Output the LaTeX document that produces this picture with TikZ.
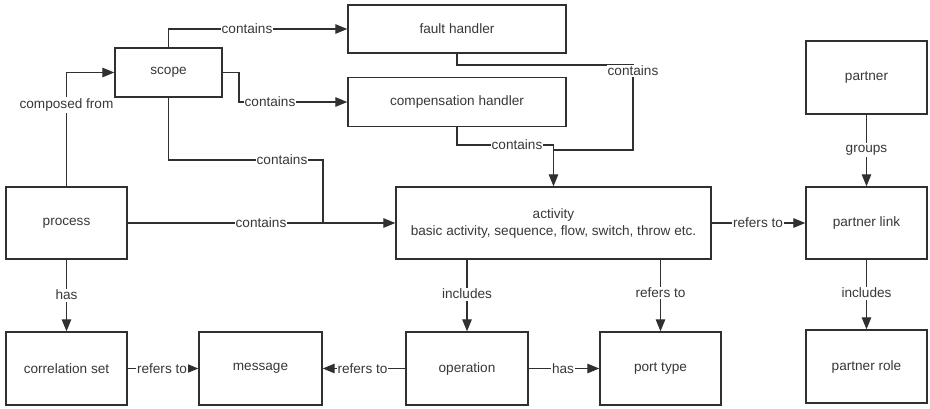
\documentclass[tikz,border=0pt]{standalone}
\usepackage{fontspec}
\setmainfont{Liberation Sans}
\usetikzlibrary{arrows.meta}
\definecolor{ink}{HTML}{303030}
\definecolor{txt}{HTML}{383838}
\begin{document}
\begin{tikzpicture}[x=1pt,y=-1pt,
  every node/.style={font=\fontsize{13.6}{17}\selectfont, text=txt},
  box/.style={draw=ink, line width=1.4pt, fill=white, inner sep=0pt, align=center},
  lbl/.style={fill=white, inner xsep=1pt, inner ysep=1.5pt},
  conn/.style={draw=ink, line width=1.2pt},
  arr/.style={conn, -{Triangle[length=12pt,width=9.5pt]}}
]
\fill[white] (0,0) rectangle (930,408);
\useasboundingbox (0,0) rectangle (930,408);

% entity boxes
\node[box, minimum width=107pt, minimum height=49pt] (scope) at (168.5,72.5) {scope};
\node[box, minimum width=218pt, minimum height=48pt] (fault) at (457,29) {fault handler};
\node[box, minimum width=218pt, minimum height=49pt] (comp) at (457,102) {compensation handler};
\node[box, minimum width=121pt, minimum height=73pt] (partner) at (866.5,77.5) {partner};
\node[box, minimum width=121pt, minimum height=72pt] (proc) at (66.5,223) {process};
\node[box, minimum width=315pt, minimum height=72pt] (act) at (553.5,223) {activity\\basic activity, sequence, flow, switch, throw etc.};
\node[box, minimum width=121pt, minimum height=72pt] (plink) at (866.5,223) {partner link};
\node[box, minimum width=121pt, minimum height=73pt] (corr) at (66.5,368.5) {correlation set};
\node[box, minimum width=123pt, minimum height=73pt] (msg) at (260.5,368.5) {message};
\node[box, minimum width=122pt, minimum height=73pt] (op) at (467,368.5) {operation};
\node[box, minimum width=121pt, minimum height=73pt] (port) at (660.5,368.5) {port type};
\node[box, minimum width=121pt, minimum height=73pt] (prole) at (866.5,366.5) {partner role};

% bend points of the routed connectors
\coordinate (sc1) at (239,72.5);
\coordinate (sc2) at (323,160);
\coordinate (jn1) at (323,223);
\coordinate (fh1) at (633,65);
\coordinate (fh2) at (633,150);
\coordinate (ch1) at (553.5,145);

% connectors
\draw[arr] (proc.north) |- (scope.west);
\draw[arr] (scope.north) |- (fault.west);
\draw[arr] (scope.east) -- (sc1) |- (comp.west);
\draw[conn] (scope.south) |- (sc2) -- (jn1);
\draw[arr] (proc.east) -- (act.west);
\draw[conn] (fault.south) |- (fh1) -- (fh2) -| (ch1);
\draw[arr] (comp.south) |- (ch1) -- (act.north);
\draw[arr] (act.east) -- (plink.west);
\draw[arr] (partner.south) -- (plink.north);
\draw[arr] (plink.south) -- (prole.north);
\draw[arr] (act.south -| op.north) -- (op.north);
\draw[arr] (act.south -| port.north) -- (port.north);
\draw[arr] (op.east) -- (port.west);
\draw[arr] (op.west) -- (msg.east);
\draw[arr] (corr.east) -- (msg.west);
\draw[arr] (proc.south) -- (corr.north);

% connector labels
\node[lbl] (l1) at (66.5,105) {composed from};
\node[lbl] (l2) at (247,29) {contains};
\node[lbl] (l3) at (270,102) {contains};
\node[lbl] (l4) at (282,160) {contains};
\node[lbl] (l5) at (261,223) {contains};
\node[lbl] (l6) at (633,71) {contains};
\node[lbl] (l7) at (517,145) {contains};
\node[lbl] (l8) at (758,223) {refers to};
\node[lbl] (l9) at (866.5,150) {groups};
\node[lbl] (l10) at (866.5,293) {includes};
\node[lbl] (l11) at (467,294) {includes};
\node[lbl] (l12) at (660.5,293) {refers to};
\node[lbl] (l13) at (563,368.5) {has};
\node[lbl] (l14) at (362.5,368.5) {refers to};
\node[lbl] (l15) at (162,368.5) {refers to};
\node[lbl] (l16) at (66.5,295) {has};
\end{tikzpicture}
\end{document}
